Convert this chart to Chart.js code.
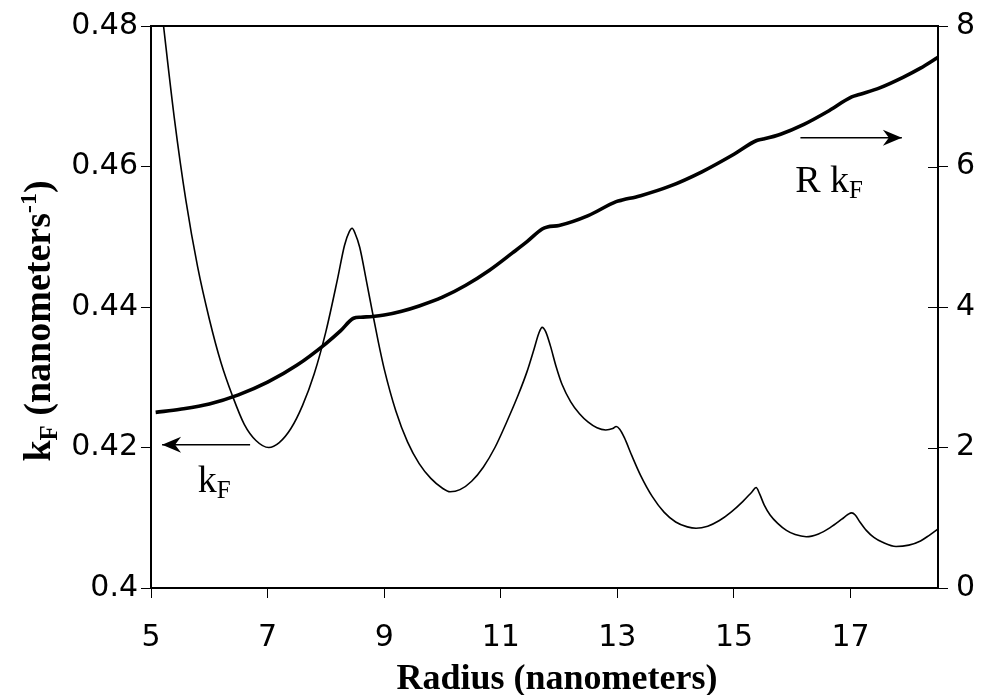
<!DOCTYPE html>
<html><head><meta charset="utf-8">
<script src="https://cdn.jsdelivr.net/npm/chart.js@4.4.1/dist/chart.umd.min.js"></script>
<style>html,body{margin:0;padding:0;background:#fff;}canvas{display:block;}</style>
</head><body>
<canvas id="c" width="984" height="695"></canvas>
<script>
// Radius (nm) and kF (nm^-1), thin curve, left axis
const radiusKF = [5.0,5.2,5.4,5.6,5.8,6.0,6.2,6.4,6.6,6.8,7.02,7.2,7.4,7.6,7.8,8.0,8.2,8.32,8.40,8.45,8.50,8.58,8.7,8.8,8.9,9.0,9.2,9.4,9.6,9.8,10.0,10.13,10.3,10.5,10.7,10.9,11.1,11.3,11.45,11.57,11.65,11.71,11.77,11.85,11.95,12.05,12.2,12.35,12.5,12.65,12.8,12.92,12.98,13.04,13.12,13.25,13.4,13.6,13.8,14.0,14.2,14.35,14.55,14.75,14.95,15.15,15.3,15.38,15.44,15.52,15.62,15.75,15.9,16.05,16.24,16.45,16.65,16.85,16.96,17.02,17.08,17.16,17.27,17.4,17.55,17.78,18.0,18.2,18.35,18.5];
const kF = [0.4955,0.4811,0.4669,0.4551,0.4457,0.4383,0.4321,0.4273,0.4233,0.4210,0.4200,0.4207,0.4227,0.4260,0.4305,0.4365,0.4440,0.4488,0.4507,0.4512,0.4505,0.4485,0.4435,0.4392,0.4350,0.4312,0.4252,0.4208,0.4177,0.4156,0.4142,0.4137,0.4140,0.4152,0.4172,0.4200,0.4236,0.4275,0.4308,0.4340,0.4362,0.4371,0.4365,0.4345,0.4315,0.4290,0.4265,0.4248,0.4236,0.4228,0.4225,0.4227,0.4230,0.4226,0.4214,0.4188,0.4160,0.4130,0.4108,0.4094,0.4087,0.4085,0.4088,0.4096,0.4108,0.4123,0.4136,0.4143,0.4134,0.4118,0.4104,0.4092,0.4082,0.4076,0.4073,0.4077,0.4086,0.4098,0.4105,0.4107,0.4104,0.4094,0.4082,0.4072,0.4065,0.4059,0.4061,0.4067,0.4075,0.4084];
// Radius (nm) and R kF, thick curve, right axis
const radiusRKF = [5.08,5.5,6.0,6.5,7.0,7.5,8.0,8.25,8.475,8.6,8.8,9.0,9.3,9.6,10.0,10.4,10.8,11.2,11.45,11.71,11.8,12.0,12.5,12.98,13.1,13.4,13.9,14.45,15.0,15.39,15.5,15.8,16.2,16.6,17.02,17.15,17.5,17.9,18.2,18.5];
const RkF = [2.50,2.545,2.62,2.75,2.93,3.17,3.48,3.66,3.84,3.855,3.865,3.885,3.94,4.015,4.14,4.31,4.52,4.77,4.93,5.11,5.14,5.16,5.30,5.50,5.525,5.585,5.72,5.925,6.175,6.37,6.39,6.46,6.60,6.78,6.99,7.025,7.12,7.27,7.40,7.555];

const xTicks = [5,7,9,11,13,15,17];
const leftTicks = [0.4,0.42,0.44,0.46,0.48];
const leftTickLabels = ['0.4','0.42','0.44','0.46','0.48'];
const rightTicks = [0,2,4,6,8];
const rightTickLabels = ['0','2','4','6','8'];
const xTitle = 'Radius (nanometers)';

const tickFont = {family:'DejaVu Sans', size:30};
const serif = 'Liberation Serif';

function drawParts(ctx, parts, x, y) {
  let cx = x;
  for (const [t, size, weight, dy] of parts) {
    ctx.font = `${weight} ${size}px "${serif}"`;
    ctx.fillText(t, cx, y + dy);
    cx += ctx.measureText(t).width;
  }
  return cx - x;
}
function measureParts(ctx, parts) {
  let w = 0;
  for (const [t, size, weight] of parts) { ctx.font = `${weight} ${size}px "${serif}"`; w += ctx.measureText(t).width; }
  return w;
}

const decor = {
  id: 'decor',
  afterDraw(chart) {
    const {ctx, chartArea: a, scales} = chart;
    const x = scales.x, yl = scales.y, yr = scales.y2;
    ctx.save();
    ctx.strokeStyle = '#000'; ctx.fillStyle = '#000';
    ctx.lineWidth = 2;
    ctx.strokeRect(a.left, a.top, a.right - a.left, a.bottom - a.top);
    // inward ticks on right axis
    ctx.lineWidth = 1;
    for (const v of [2,4,6]) {
      const py = Math.round(yr.getPixelForValue(v)) + 0.5;
      ctx.beginPath(); ctx.moveTo(a.right - 10, py); ctx.lineTo(a.right, py); ctx.stroke();
    }
    // arrows
    function arrow(x0, y0, x1, y1) {
      ctx.lineWidth = 1.5;
      ctx.beginPath(); ctx.moveTo(x0, y0); ctx.lineTo(x1, y1); ctx.stroke();
      const dir = Math.sign(x1 - x0);
      ctx.beginPath();
      ctx.moveTo(x1, y1);
      ctx.lineTo(x1 - dir*19, y1 - 8);
      ctx.lineTo(x1 - dir*13, y1);
      ctx.lineTo(x1 - dir*19, y1 + 8);
      ctx.closePath(); ctx.fill();
    }
    const ay1 = yl.getPixelForValue(0.4204);
    arrow(x.getPixelForValue(6.70), ay1, x.getPixelForValue(5.19), ay1);
    const ay2 = yr.getPixelForValue(6.41);
    arrow(x.getPixelForValue(16.14), ay2, x.getPixelForValue(17.88), ay2);
    // annotation labels
    ctx.textBaseline = 'alphabetic'; ctx.textAlign = 'left';
    drawParts(ctx, [['k',38,'normal',0],['F',25,'normal',6]], x.getPixelForValue(5.80), yl.getPixelForValue(0.4137));
    drawParts(ctx, [['R k',38,'normal',0],['F',25,'normal',6]], x.getPixelForValue(16.05), yr.getPixelForValue(5.64));
    // x axis title
    ctx.font = `bold 36px "${serif}"`;
    ctx.textAlign = 'center';
    ctx.fillText(xTitle, 557, 689);
    ctx.textAlign = 'left';
    // y axis title (rotated)
    const parts = [['k',38,'bold',0],['F',25,'bold',7],[' (nanometers',38,'bold',0],['-1',24,'bold',-14],[')',38,'bold',0]];
    const w = measureParts(ctx, parts);
    ctx.translate(50, 321);
    ctx.rotate(-Math.PI/2);
    drawParts(ctx, parts, -w/2, 0);
    ctx.restore();
  }
};

new Chart(document.getElementById('c'), {
  type: 'line',
  data: {
    datasets: [
      { label: 'kF', data: radiusKF.map((r,i)=>({x:r, y:kF[i]})), yAxisID:'y',
        borderColor:'#000', borderWidth:1.6, pointRadius:0, fill:false, cubicInterpolationMode:'monotone' },
      { label: 'R kF', data: radiusRKF.map((r,i)=>({x:r, y:RkF[i]})), yAxisID:'y2',
        borderColor:'#000', borderWidth:3.6, pointRadius:0, fill:false, cubicInterpolationMode:'monotone' }
    ]
  },
  options: {
    responsive:false, animation:false, devicePixelRatio:1,
    layout:{padding:{top:21,left:0,right:0,bottom:0}},
    plugins:{legend:{display:false}, tooltip:{enabled:false}},
    scales:{
      x:{type:'linear', min:5, max:18.5,
        afterBuildTicks:s=>{s.ticks = xTicks.map(v=>({value:v}));},
        ticks:{font:tickFont, color:'#000', padding:22, maxRotation:0, autoSkip:false},
        grid:{drawOnChartArea:false, drawTicks:true, tickLength:10, color:'#000', lineWidth:1},
        border:{display:true, color:'#000', width:2},
        title:{display:false},
        afterFit:s=>{s.height = 107;}
      },
      y:{position:'left', min:0.4, max:0.48,
        afterBuildTicks:s=>{s.ticks = leftTicks.map(v=>({value:v}));},
        ticks:{font:tickFont, color:'#000', padding:3, callback:(v,i)=>leftTickLabels[i]},
        grid:{drawOnChartArea:false, drawTicks:true, tickLength:10, color:'#000', lineWidth:1},
        border:{display:true, color:'#000', width:2},
        afterFit:s=>{s.width = 151;}
      },
      y2:{position:'right', min:0, max:8,
        afterBuildTicks:s=>{s.ticks = rightTicks.map(v=>({value:v}));},
        ticks:{font:tickFont, color:'#000', padding:8, callback:(v,i)=>rightTickLabels[i]},
        grid:{drawOnChartArea:false, drawTicks:true, tickLength:10, color:'#000', lineWidth:1},
        border:{display:true, color:'#000', width:2},
        afterFit:s=>{s.width = 46;}
      }
    }
  },
  plugins:[decor]
});
</script>
</body></html>
